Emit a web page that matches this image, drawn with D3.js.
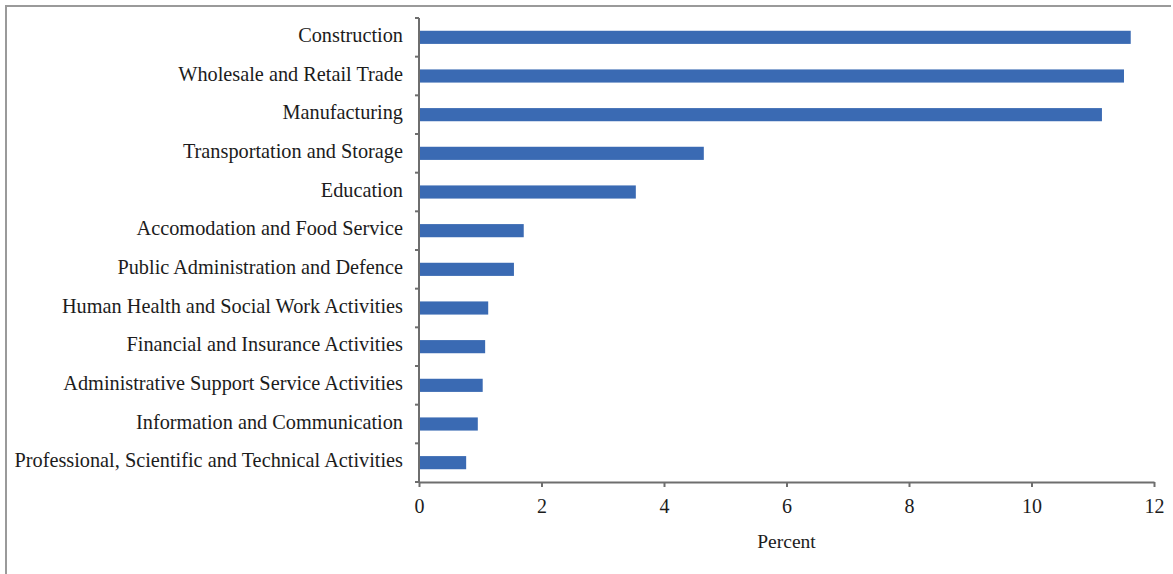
<!DOCTYPE html>
<html><head><meta charset="utf-8">
<script src="https://cdn.jsdelivr.net/npm/d3@7"></script>
<style>
html,body{margin:0;padding:0;background:#fff;}
svg{display:block;}
text{font-family:"Liberation Serif","Times New Roman",serif;fill:#1c1c1c;}
</style></head>
<body>
<svg id="chart" width="1173" height="574"></svg>
<script>
const categories = [
  "Construction",
  "Wholesale and Retail Trade",
  "Manufacturing",
  "Transportation and Storage",
  "Education",
  "Accomodation and Food Service",
  "Public Administration and Defence",
  "Human Health and Social Work Activities",
  "Financial and Insurance Activities",
  "Administrative Support Service Activities",
  "Information and Communication",
  "Professional, Scientific and Technical Activities"
];
const values = [11.62, 11.51, 11.15, 4.65, 3.54, 1.71, 1.55, 1.13, 1.08, 1.04, 0.96, 0.77];
const xTicks = [0, 2, 4, 6, 8, 10, 12];
const xTitle = "Percent";

const svg = d3.select("#chart");
const mLeft = 419, mRight = 1154, mTop = 18, mBottom = 482;

// frame lines (top and left)
svg.append("line").attr("x1",5).attr("x2",1171).attr("y1",6).attr("y2",6)
  .attr("stroke","#9a9a9a").attr("stroke-width",2);
svg.append("line").attr("x1",6).attr("x2",6).attr("y1",5).attr("y2",574)
  .attr("stroke","#9a9a9a").attr("stroke-width",2);

const x = d3.scaleLinear().domain([0, 12]).range([mLeft, mRight]);
const y = d3.scaleBand().domain(categories).range([mTop, mBottom])
  .paddingInner(0.66).paddingOuter(0.33);

// bars
svg.append("g").selectAll("rect").data(categories).join("rect")
  .attr("x", x(0))
  .attr("y", d => y(d))
  .attr("width", (d,i) => x(values[i]) - x(0))
  .attr("height", y.bandwidth())
  .attr("fill", "#3a6ab3");

const axisColor = "#6e6e6e";

// x axis
const xAxis = svg.append("g").attr("transform", `translate(0,${mBottom})`)
  .call(d3.axisBottom(x).tickValues(xTicks).tickSize(5).tickSizeOuter(0).tickPadding(12));
xAxis.select(".domain").attr("stroke", axisColor).attr("stroke-width", 2);
xAxis.selectAll(".tick line").attr("stroke", axisColor).attr("stroke-width", 2);
xAxis.selectAll(".tick text").attr("font-size", 20).attr("fill","#1c1c1c")
  .attr("font-family", "Liberation Serif");

// y axis: ticks at band boundaries
const boundaries = d3.range(categories.length + 1).map(i => mTop + i * ((mBottom - mTop) / categories.length));
const yAxis = svg.append("g");
yAxis.append("line").attr("x1", mLeft).attr("x2", mLeft).attr("y1", mTop).attr("y2", mBottom)
  .attr("stroke", axisColor).attr("stroke-width", 2);
yAxis.selectAll("line.tk").data(boundaries).join("line").attr("class","tk")
  .attr("x1", mLeft - 4).attr("x2", mLeft).attr("y1", d => d).attr("y2", d => d)
  .attr("stroke", axisColor).attr("stroke-width", 2);

// category labels
svg.append("g").selectAll("text").data(categories).join("text")
  .attr("x", 403)
  .attr("y", d => y(d) + y.bandwidth() / 2 - 2.5)
  .attr("dy", "0.35em")
  .attr("text-anchor", "end")
  .attr("font-size", 20.3)
  .text(d => d);

// x title
svg.append("text").attr("x", (mLeft + mRight) / 2).attr("y", 548)
  .attr("text-anchor", "middle").attr("font-size", 19.5).text(xTitle);
</script>
</body></html>
